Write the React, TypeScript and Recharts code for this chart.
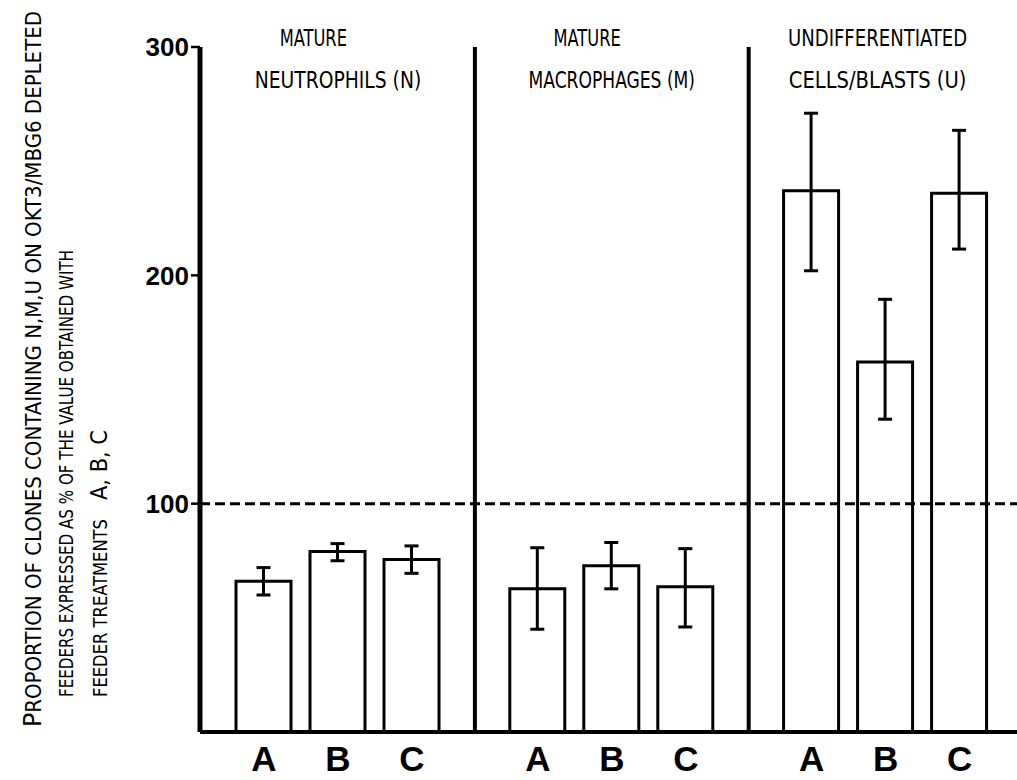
import React from 'react';
import { ComposedChart, Bar, ErrorBar, XAxis, YAxis, ReferenceLine } from 'recharts';

// ---- data ----
const treatments = ['A', 'B', 'C'];
const groupKeys = ['N', 'M', 'U'];
const titleLine1 = ['MATURE', 'MATURE', 'UNDIFFERENTIATED'];
const titleLine2 = ['NEUTROPHILS (N)', 'MACROPHAGES (M)', 'CELLS/BLASTS (U)'];

const neutrophils = [66, 79, 75.5];
const neutrophilsLow = [60, 75, 69.5];
const neutrophilsHigh = [72, 82.5, 81.5];

const macrophages = [62.7, 72.8, 63.6];
const macrophagesLow = [45, 62.7, 46];
const macrophagesHigh = [80.7, 83, 80.3];

const undifferentiated = [237, 162, 236];
const undifferentiatedLow = [202, 137, 211.5];
const undifferentiatedHigh = [271, 189.5, 263.5];

const yTicks = [100, 200, 300];
const referenceValue = 100;

const yLabelLine1 = 'PROPORTION OF CLONES CONTAINING N,M,U ON OKT3/MBG6 DEPLETED';
const yLabelLine2 = 'FEEDERS EXPRESSED AS % OF THE VALUE OBTAINED WITH';
const yLabelLine3a = 'FEEDER TREATMENTS';
const yLabelLine3b = 'A, B, C';

// ---- layout helpers ----
const GROUP_STEP = 3.7;
const values = [neutrophils, macrophages, undifferentiated];
const lows = [neutrophilsLow, macrophagesLow, undifferentiatedLow];
const highs = [neutrophilsHigh, macrophagesHigh, undifferentiatedHigh];

const rows = groupKeys.flatMap((g, gi) =>
  treatments.map((t, ti) => {
    const v = values[gi][ti];
    return {
      pos: gi * GROUP_STEP + ti,
      group: g,
      label: t,
      value: v,
      err: [v - lows[gi][ti], highs[gi][ti] - v],
    };
  })
);
const barTicks = rows.map((r) => r.pos);
const titleTicks = groupKeys.map((_, gi) => gi * GROUP_STEP + 1);
const separators = [0, 1].map((gi) => (gi * GROUP_STEP + 2 + (gi + 1) * GROUP_STEP) / 2);

const CONDENSED = "'Liberation Sans Narrow', 'DejaVu Sans Condensed', 'Liberation Sans', sans-serif";
const BOLD = "'Liberation Sans', Arial, Helvetica, sans-serif";

const LetterTick = (props: any) => {
  const { x, index } = props;
  return (
    <text x={x} y={771} textAnchor="middle" fontFamily={BOLD} fontWeight="bold" fontSize={35} fill="#000">
      {treatments[index % 3]}
    </text>
  );
};

const TitleTick = (props: any) => {
  const { x, index } = props;
  const l1 = titleLine1[index];
  const l2 = titleLine2[index];
  const w1 = l1.length * 11.2;
  const w2 = l2.length * 11.1;
  const short = l1.length * 2 < l2.length;
  const x1 = short ? x - w2 / 2 + 25 : x - w1 / 2 - 8;
  const x2 = short ? x - w2 / 2 : x - w2 / 2 - 8;
  return (
    <g>
      <text x={x1} y={46} fontFamily={CONDENSED} fontSize={23} fill="#000" textLength={w1} lengthAdjust="spacingAndGlyphs">
        {l1}
      </text>
      <text x={x2} y={88} fontFamily={CONDENSED} fontSize={23} fill="#000" textLength={w2} lengthAdjust="spacingAndGlyphs">
        {l2}
      </text>
    </g>
  );
};

const YLabel = () => {
  const rot = (x: number, y: number) => `rotate(-90, ${x}, ${y})`;
  return (
    <g>
      <text x={41} y={727} transform={rot(41, 727)} fontFamily={CONDENSED} fill="#000" textLength={716} lengthAdjust="spacingAndGlyphs">
        <tspan fontSize={25}>{yLabelLine1.slice(0, 1)}</tspan>
        <tspan fontSize={21}>{yLabelLine1.slice(1)}</tspan>
      </text>
      <text x={73} y={697} transform={rot(73, 697)} fontFamily={CONDENSED} fontSize={20} fill="#000" textLength={447} lengthAdjust="spacingAndGlyphs">
        {yLabelLine2}
      </text>
      <text x={107} y={697} transform={rot(107, 697)} fontFamily={CONDENSED} fontSize={20} fill="#000" textLength={178} lengthAdjust="spacingAndGlyphs">
        {yLabelLine3a}
      </text>
      <text x={107} y={500} transform={rot(107, 500)} fontFamily={CONDENSED} fontSize={23} fill="#000" textLength={70} lengthAdjust="spacingAndGlyphs">
        {yLabelLine3b}
      </text>
    </g>
  );
};

export default function App() {
  return (
    <div style={{ position: 'absolute', left: 0, top: 0, background: '#fff' }}>
      <ComposedChart width={1017} height={780} data={rows} margin={{ top: 0, right: 0, bottom: 0, left: 0 }}>
        <XAxis
          dataKey="pos"
          type="number"
          domain={[-0.865, 10.176]}
          allowDataOverflow
          ticks={barTicks}
          interval={0}
          height={48}
          axisLine={{ stroke: '#000', strokeWidth: 4 }}
          tickLine={false}
          tick={<LetterTick />}
        />
        <XAxis
          xAxisId="top"
          orientation="top"
          dataKey="pos"
          type="number"
          domain={[-0.865, 10.176]}
          allowDataOverflow
          ticks={titleTicks}
          interval={0}
          height={47}
          axisLine={false}
          tickLine={false}
          tick={<TitleTick />}
        />
        <YAxis
          type="number"
          domain={[0, 300]}
          ticks={yTicks}
          interval={0}
          width={200}
          axisLine={{ stroke: '#000', strokeWidth: 5 }}
          tickLine={{ stroke: '#000', strokeWidth: 2.5 }}
          tickSize={9}
          tickMargin={2}
          tick={{ fontFamily: BOLD, fontWeight: 'bold', fontSize: 26, fill: '#000' }}
          label={{ content: () => <YLabel /> }}
        />
        {separators.map((s, i) => (
          <ReferenceLine key={i} x={s} stroke="#000" strokeWidth={4} ifOverflow="visible" />
        ))}
        <Bar dataKey="value" barSize={55} fill="#fff" stroke="#000" strokeWidth={3} isAnimationActive={false}>
          <ErrorBar dataKey="err" direction="y" width={7} stroke="#000" strokeWidth={3} isAnimationActive={false} />
        </Bar>
        <ReferenceLine y={referenceValue} stroke="#000" strokeWidth={3} strokeDasharray="10 5" />
      </ComposedChart>
    </div>
  );
}
